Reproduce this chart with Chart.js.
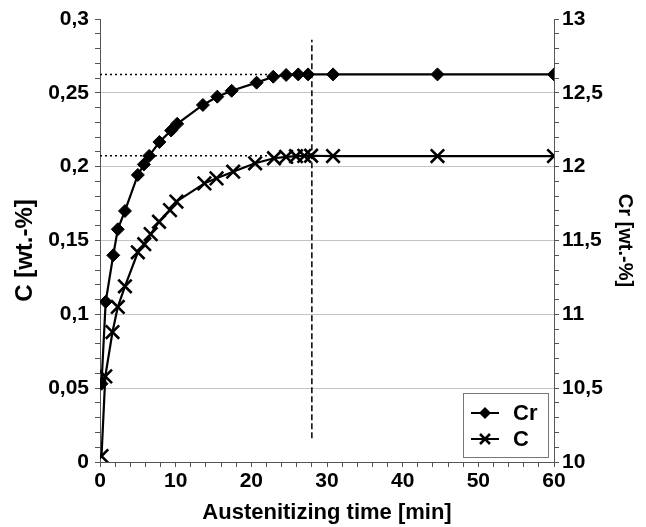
<!DOCTYPE html>
<html>
<head>
<meta charset="utf-8">
<script src="https://cdn.jsdelivr.net/npm/chart.js@4.4.0/dist/chart.umd.min.js"></script>
<style>
  html, body { margin: 0; padding: 0; background: #fff; }
</style>
</head>
<body>
<canvas id="chart" width="646" height="527"></canvas>
<script>
// Cr content (right axis)
const timeCr = [0.2, 0.75, 1.75, 2.35, 3.3, 5.0, 5.8, 6.5, 7.85, 9.4, 10.2, 13.6, 15.5, 17.4, 20.7, 22.9, 24.6, 26.2, 27.5, 30.8, 44.6, 60];
const valuesCr = [10.53, 11.085, 11.40, 11.576, 11.70, 11.944, 12.015, 12.073, 12.167, 12.245, 12.29, 12.418, 12.474, 12.514, 12.569, 12.609, 12.621, 12.625, 12.625, 12.625, 12.625, 12.625];

// C content (left axis)
const timeC = [0.2, 0.7, 1.65, 2.35, 3.3, 5.0, 5.85, 6.7, 7.8, 9.25, 10.1, 13.8, 15.4, 17.6, 20.5, 23.0, 24.6, 25.9, 27.0, 27.9, 30.8, 44.6, 60];
const valuesC = [0.004, 0.058, 0.088, 0.105, 0.119, 0.142, 0.1475, 0.1543, 0.1627, 0.1706, 0.1763, 0.1887, 0.1921, 0.1966, 0.2023, 0.2057, 0.2066, 0.2071, 0.2073, 0.2074, 0.2072, 0.2072, 0.2072];

// reference lines
const crLevel = 12.625;
const cLevel = 0.2074;
const levelEndCr = 22.1;
const levelEndC = 22.6;
const markerTime = 28;
const markerFrom = 0.016;
const markerTo = 0.286;

const seriesLabels = ['Cr', 'C'];

const FONT = 'Liberation Sans, Arial, sans-serif';

function toPoints(xs, ys) {
  return xs.map((x, i) => ({ x: x, y: ys[i] }));
}

function isMultiple(v, step) {
  const r = v / step;
  return Math.abs(r - Math.round(r)) < 1e-6;
}

function commaLabel(v) {
  return String(+v.toFixed(2)).replace('.', ',');
}

// draws the small boxed legend in the lower right corner of the plot
const cornerLegend = {
  id: 'cornerLegend',
  afterDraw(chart) {
    const ctx = chart.ctx;
    const area = chart.chartArea;
    const w = 85, h = 64;
    const x = area.right - 6 - w;
    const y = area.bottom - 5 - h;

    ctx.save();
    ctx.fillStyle = '#fff';
    ctx.fillRect(x, y, w, h);
    ctx.strokeStyle = '#777';
    ctx.lineWidth = 1;
    ctx.strokeRect(x + 0.5, y + 0.5, w, h);

    ctx.font = 'bold 22px ' + FONT;
    ctx.textBaseline = 'middle';
    ctx.textAlign = 'left';

    seriesLabels.forEach((label, i) => {
      const cy = y + 20 + i * 26;
      const cx = x + 22;
      ctx.strokeStyle = '#000';
      ctx.fillStyle = '#000';
      ctx.lineWidth = 2;
      ctx.beginPath();
      ctx.moveTo(x + 8, cy);
      ctx.lineTo(x + 36, cy);
      ctx.stroke();
      if (i === 0) {
        ctx.beginPath();
        ctx.moveTo(cx - 6, cy);
        ctx.lineTo(cx, cy - 6);
        ctx.lineTo(cx + 6, cy);
        ctx.lineTo(cx, cy + 6);
        ctx.closePath();
        ctx.fill();
      } else {
        ctx.lineWidth = 2.5;
        ctx.beginPath();
        ctx.moveTo(cx - 5, cy - 5);
        ctx.lineTo(cx + 5, cy + 5);
        ctx.moveTo(cx - 5, cy + 5);
        ctx.lineTo(cx + 5, cy - 5);
        ctx.stroke();
      }
      ctx.fillText(label, x + 50, cy + 1);
    });
    ctx.restore();
  }
};

new Chart(document.getElementById('chart').getContext('2d'), {
  type: 'scatter',
  data: {
    datasets: [
      {
        label: seriesLabels[0],
        data: toPoints(timeCr, valuesCr),
        yAxisID: 'yCr',
        showLine: true,
        clip: 0,
        borderColor: '#000',
        backgroundColor: '#000',
        borderWidth: 2.2,
        pointStyle: 'rectRot',
        pointRadius: 6.5,
        pointBorderWidth: 1,
        order: 1
      },
      {
        label: seriesLabels[1],
        data: toPoints(timeC, valuesC),
        yAxisID: 'yC',
        showLine: true,
        clip: 0,
        borderColor: '#000',
        backgroundColor: '#000',
        borderWidth: 2.2,
        pointStyle: 'crossRot',
        pointRadius: 9.5,
        pointBorderWidth: 2.6,
        order: 2
      },
      {
        data: [{ x: 0, y: crLevel }, { x: levelEndCr, y: crLevel }],
        yAxisID: 'yCr',
        showLine: true,
        borderColor: '#000',
        borderWidth: 1.5,
        borderDash: [2, 3],
        pointRadius: 0,
        order: 3
      },
      {
        data: [{ x: 0, y: cLevel }, { x: levelEndC, y: cLevel }],
        yAxisID: 'yC',
        showLine: true,
        borderColor: '#000',
        borderWidth: 1.5,
        borderDash: [2, 3],
        pointRadius: 0,
        order: 4
      },
      {
        data: [{ x: markerTime, y: markerFrom }, { x: markerTime, y: markerTo }],
        yAxisID: 'yC',
        showLine: true,
        borderColor: '#000',
        borderWidth: 1.5,
        borderDash: [6, 3],
        pointRadius: 0,
        order: 5
      }
    ]
  },
  options: {
    responsive: false,
    animation: false,
    devicePixelRatio: 1,
    layout: {
      padding: { top: 19, left: 0, right: 0, bottom: 0 }
    },
    scales: {
      x: {
        type: 'linear',
        min: 0,
        max: 60,
        afterFit: (scale) => { scale.height = 65; },
        ticks: {
          stepSize: 2,
          autoSkip: false,
          maxRotation: 0,
          padding: 2,
          color: '#000',
          font: { family: FONT, size: 21, weight: 'bold' },
          callback: (v) => isMultiple(v, 10) ? String(v) : ''
        },
        grid: {
          drawOnChartArea: false,
          tickLength: 5,
          tickColor: '#555'
        },
        border: { color: '#555', width: 1 },
        title: {
          display: true,
          text: 'Austenitizing time [min]',
          color: '#000',
          font: { family: FONT, size: 22, weight: 'bold' },
          padding: { top: 0, bottom: 1 }
        }
      },
      yC: {
        type: 'linear',
        position: 'left',
        min: 0,
        max: 0.3,
        afterFit: (scale) => { scale.width = 100; },
        ticks: {
          stepSize: 0.01,
          autoSkip: false,
          padding: 6,
          color: '#000',
          font: { family: FONT, size: 21, weight: 'bold' },
          callback: (v) => isMultiple(v, 0.05) ? commaLabel(v) : ''
        },
        grid: {
          color: (ctx) => {
            const v = ctx.tick ? ctx.tick.value : 0;
            return isMultiple(v, 0.05) && v > 0.001 && v < 0.299 ? '#c4c4c4' : 'rgba(0,0,0,0)';
          },
          tickLength: 5,
          tickColor: '#555'
        },
        border: { color: '#555', width: 1 },
        title: {
          display: true,
          text: 'C [wt.-%]   ',
          color: '#000',
          font: { family: FONT, size: 24, weight: 'bold' },
          padding: { top: 11, bottom: 0 }
        }
      },
      yCr: {
        type: 'linear',
        position: 'right',
        min: 10,
        max: 13,
        afterFit: (scale) => { scale.width = 92; },
        ticks: {
          stepSize: 0.1,
          autoSkip: false,
          padding: 3,
          color: '#000',
          font: { family: FONT, size: 21, weight: 'bold' },
          callback: (v) => isMultiple(v, 0.5) ? commaLabel(v) : ''
        },
        grid: {
          drawOnChartArea: false,
          tickLength: 5,
          tickColor: '#555'
        },
        border: { color: '#555', width: 1 },
        title: {
          display: true,
          text: 'Cr [wt.-%]',
          color: '#000',
          font: { family: FONT, size: 20, weight: 'bold' },
          padding: { top: 9, bottom: 0 }
        }
      }
    },
    plugins: {
      legend: { display: false },
      tooltip: { enabled: false }
    }
  },
  plugins: [cornerLegend]
});
</script>
</body>
</html>
